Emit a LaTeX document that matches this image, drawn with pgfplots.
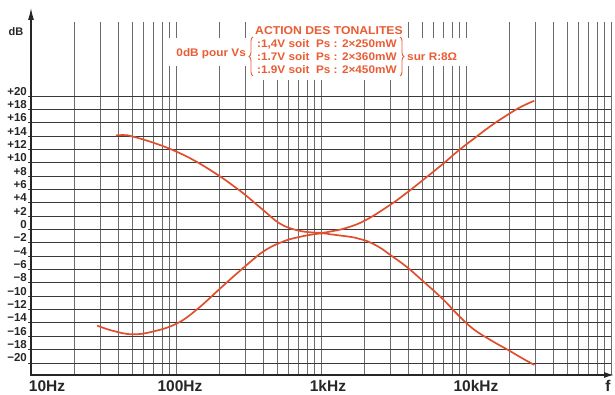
\documentclass[border=0pt]{standalone}
\usepackage{fontspec}
\setmainfont{Liberation Sans}
\newfontfamily\annfont{Liberation Sans}[FakeStretch=1.07]
\usepackage{pgfplots}
\usepackage{pgfplotstable}
\pgfplotsset{compat=1.18}
\usetikzlibrary{arrows.meta,decorations.pathreplacing}
\definecolor{curve}{RGB}{224,78,46}
\definecolor{ann}{RGB}{234,92,52}

\pgfplotstableread{
f dB
38.5 14.1
44 14.15
50 13.95
70 13.0
100 11.7
140 10.1
200 8.0
250 6.5
300 5.2
400 2.9
520 0.9
680 -0.1
880 -0.45
1000 -0.5
1160 -0.3
1500 0.25
2030 1.4
3000 3.7
3900 5.5
4970 7.3
6900 9.8
8900 11.85
11300 13.6
15000 15.6
19700 17.3
24000 18.4
29600 19.3
}\boost

\pgfplotstableread{
f dB
28.6 -14.4
37 -15.2
50 -15.7
69 -15.3
101 -14.1
139 -12.0
200 -8.9
250 -7.0
300 -5.5
400 -3.3
520 -2.0
680 -1.2
980 -0.6
1160 -0.72
1300 -0.85
1700 -1.2
2030 -1.65
2500 -2.6
3000 -3.8
3900 -5.6
4970 -7.6
6900 -10.4
8900 -12.9
11300 -14.95
15000 -16.65
19700 -18.1
24000 -19.2
29600 -20.3
}\cut

\begin{document}
\begin{tikzpicture}
\begin{axis}[
  xmode=log,
  scale only axis,
  width=580pt, height=353pt,
  xmin=10, xmax=100000, ymin=-21.8, ymax=31.1,
  axis line style={draw=none},
  xtick={10,100,1000,10000,100000},
  xticklabels={,,,,},
  minor xtick={20,30,40,50,60,70,80,90,200,300,400,500,600,700,800,900,2000,3000,4000,5000,6000,7000,8000,9000,20000,30000,40000,50000,60000,70000,80000,90000},
  ytick={-20,-18,-16,-14,-12,-10,-8,-6,-4,-2,0,2,4,6,8,10,12,14,16,18,20},
  yticklabels={−20,−18,−16,−14,−12,−10,−8,−6,−4,−2,0,+2,+4,+6,+8,+10,+12,+14,+16,+18,+20},
  xmajorgrids, xminorgrids, ymajorgrids,
  every axis x grid/.style={black!58, line width=0.75pt},
  every axis y grid/.style={black!78, line width=0.9pt},
  xtick style={draw=none},
  minor tick style={draw=none},
  ytick pos=left,
  tick align=outside,
  major tick length=3pt,
  ytick style={black!78, line width=0.9pt},
  yticklabel style={font=\bfseries\fontsize{11.5}{12}\selectfont, anchor=base east, inner sep=0pt, xshift=-1pt, yshift=1pt, black!85},
  extra x ticks={12.9,106.6,1117,11720,95350},
  extra x tick labels={10Hz,100Hz,1kHz,10kHz,f},
  extra x tick style={grid=none, major tick length=0pt,
    xticklabel style={font=\bfseries\fontsize{15.5}{16}\selectfont, anchor=north, inner sep=0pt, yshift=-5pt, black!85}},
  clip=false,
]
\addplot[curve, line width=1.7pt, smooth, tension=0.7] table[x=f,y=dB]{\boost};
\addplot[curve, line width=1.7pt, smooth, tension=0.7] table[x=f,y=dB]{\cut};
\coordinate (ll) at (rel axis cs:0,0);
\end{axis}
\begin{scope}[shift={(ll)}, shift={(-31pt,375pt)}, x=1pt, y=-1pt]
  % axes
  \draw[line width=1.2pt, black!85, -{Latex[length=12pt,width=6pt]}] (31,375.5) -- (31,8);
  \draw[line width=1.2pt, black!85, -{Latex[length=10pt,width=6pt]}] (30.4,375) -- (614,375);
  \node[font=\bfseries\fontsize{11}{12}\selectfont, anchor=base, black!85] at (16,36) {dB};
  % white backgrounds for annotation
  \fill[white] (168,38) rectangle (470,66);
  \fill[white] (251,22) rectangle (406,80);
  \node[text=ann, font=\annfont\bfseries\fontsize{11.4}{12}\selectfont] at (329,30.5) {ACTION DES TONALITES};
  \node[text=ann, font=\annfont\bfseries\fontsize{11}{12}\selectfont, anchor=east, inner sep=0pt] at (246,54) {0dB pour Vs};
  \draw[ann, line width=0.9pt, decorate, decoration={brace, amplitude=4pt}] (253,76) -- (253,37);
  \draw[ann, line width=0.9pt, decorate, decoration={brace, amplitude=4pt}] (400,37) -- (400,76);
  \node[text=ann, font=\annfont\bfseries\fontsize{11}{12}\selectfont, anchor=west, inner sep=0pt] at (257,44) {:1,4V soit\ \ Ps : 2×250mW};
  \node[text=ann, font=\annfont\bfseries\fontsize{11}{12}\selectfont, anchor=west, inner sep=0pt] at (257,57) {:1.7V soit\ \ Ps : 2×360mW};
  \node[text=ann, font=\annfont\bfseries\fontsize{11}{12}\selectfont, anchor=west, inner sep=0pt] at (257,70) {:1.9V soit\ \ Ps : 2×450mW};
  \node[text=ann, font=\annfont\bfseries\fontsize{11}{12}\selectfont, anchor=west, inner sep=0pt] at (407,57) {sur R:8Ω};
  \pgfresetboundingbox
  \path[use as bounding box] (0,0) rectangle (615,395);
\end{scope}
\end{tikzpicture}
\end{document}
